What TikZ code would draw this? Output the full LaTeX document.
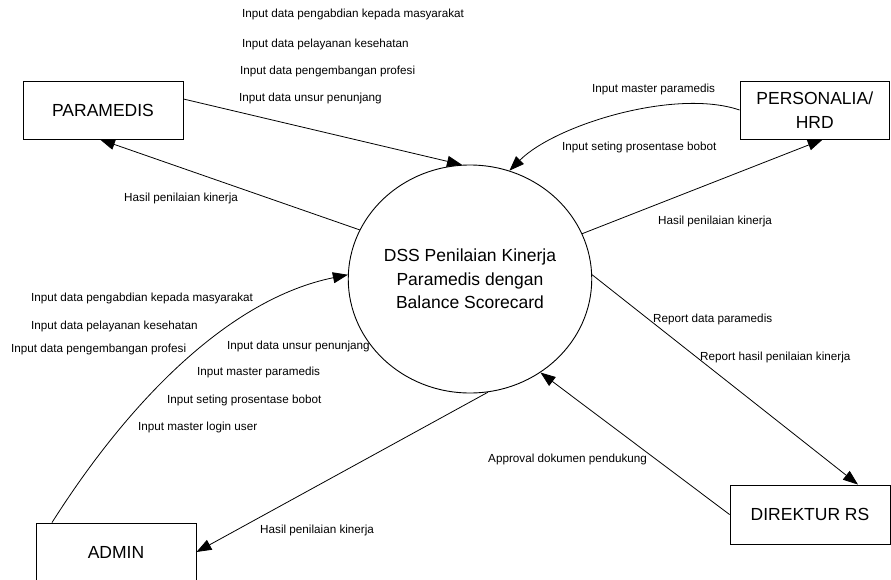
\documentclass[tikz,border=0pt]{standalone}
\usepackage{fontspec}
\setmainfont{Liberation Sans}
\usetikzlibrary{arrows.meta,shapes.geometric}
\begin{document}
\begin{tikzpicture}[x=1pt,y=-1pt,
  ent/.style={draw,line width=0.9pt,inner sep=0pt,font=\fontsize{17.5}{23.5}\selectfont,align=center},
  lbl/.style={anchor=west,inner sep=0pt,font=\fontsize{11.7}{14}\selectfont},
  flow/.style={line width=0.8pt,-{Triangle[length=15pt,width=11pt]}},
]
\useasboundingbox (0,0) rectangle (891,579);
\clip (0,0) rectangle (891,579);
\node[ent,minimum width=160pt,minimum height=58pt] (par) at (103,110) {PARAMEDIS};
\node[ent,minimum width=149.5pt,minimum height=58pt] (hrd) at (814.75,110) {PERSONALIA/\\HRD};
\node[ent,minimum width=160pt,minimum height=59pt] (dir) at (810,514.5) {DIREKTUR RS};
\node[ent,minimum width=160pt,minimum height=58pt] (adm) at (116,552) {ADMIN};
\node[ent,ellipse,minimum width=206pt,minimum height=228pt] (c) at (470,279) {DSS Penilaian Kinerja\\Paramedis dengan\\Balance Scorecard};

\draw[flow] ([yshift=11pt]par.east) -- (c.94);
\draw[flow] (c.156.6) -- ([xshift=-3pt]par.south);
\draw[flow] (hrd.west) .. controls (675,88) and (555,125) .. (c.70.9);
\draw[flow] (c.22.4) -- ([xshift=8pt]hrd.south);
\draw[flow] (c.2.8) -- ([xshift=48pt]dir.north);
\draw[flow] (dir.west) -- (c.-53);
\draw[flow] (c.-81.4) -- (adm.east);
\draw[flow] ([xshift=-64pt]adm.north) .. controls +(78,-123) and +(-118,24) .. (c.178.3);

\node[lbl] (p1) at (242,14) {Input data pengabdian kepada masyarakat};
\node[lbl] (p2) at (242,44) {Input data pelayanan kesehatan};
\node[lbl] (p3) at (240,71) {Input data pengembangan profesi};
\node[lbl] (p4) at (239,98) {Input data unsur penunjang};
\node[lbl] (p5) at (124,198) {Hasil penilaian kinerja};

\node[lbl] (h1) at (592,89) {Input master paramedis};
\node[lbl] (h2) at (562,147) {Input seting prosentase bobot};
\node[lbl] (h3) at (658,221) {Hasil penilaian kinerja};

\node[lbl] (d1) at (653,319) {Report data paramedis};
\node[lbl] (d2) at (700,357) {Report hasil penilaian kinerja};
\node[lbl] (d3) at (488,459) {Approval dokumen pendukung};

\node[lbl] (a1) at (31,298) {Input data pengabdian kepada masyarakat};
\node[lbl] (a2) at (31,326) {Input data pelayanan kesehatan};
\node[lbl] (a3) at (11,349) {Input data pengembangan profesi};
\node[lbl] (a4) at (227,346) {Input data unsur penunjang};
\node[lbl] (a5) at (197,372) {Input master paramedis};
\node[lbl] (a6) at (167,400) {Input seting prosentase bobot};
\node[lbl] (a7) at (138,427) {Input master login user};
\node[lbl] (a8) at (260,530) {Hasil penilaian kinerja};
\end{tikzpicture}
\end{document}
